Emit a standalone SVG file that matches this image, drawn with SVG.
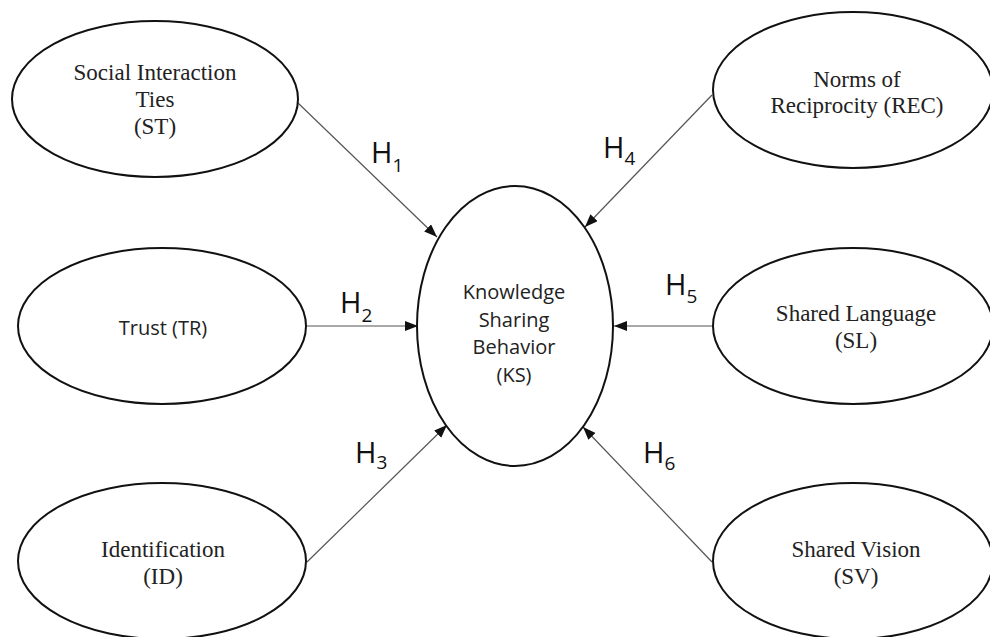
<svg xmlns="http://www.w3.org/2000/svg" width="990" height="637" viewBox="0 0 990 637">
<style>
.node ellipse{fill:#fff;stroke:#111;stroke-width:2}
.serif{font-family:"Liberation Serif","Times New Roman",serif;font-size:23px;fill:#222;text-anchor:middle}
.sans{font-family:"Open Sans","Noto Sans",sans-serif;fill:#222;text-anchor:middle}
.conn line{stroke:#555;stroke-width:1.2}
.hl{font-family:"Open Sans","Noto Sans",sans-serif;font-size:29px;fill:#111}
.hl tspan{font-size:19px}
</style>
<defs>
<marker id="ah" markerUnits="userSpaceOnUse" markerWidth="14" markerHeight="12" refX="13" refY="5" orient="auto">
<path d="M0,0 L13,5 L0,10 Z" fill="#111"/>
</marker>
</defs>
<rect width="990" height="637" fill="#fff"/>
<g class="conn">
<line x1="298" y1="103" x2="437" y2="237" marker-end="url(#ah)"/>
<line x1="307" y1="326" x2="418" y2="326" marker-end="url(#ah)"/>
<line x1="307" y1="562" x2="447" y2="425" marker-end="url(#ah)"/>
<line x1="712" y1="95" x2="585" y2="227" marker-end="url(#ah)"/>
<line x1="713" y1="326" x2="614" y2="326" marker-end="url(#ah)"/>
<line x1="712" y1="562" x2="583" y2="427" marker-end="url(#ah)"/>
</g>
<g id="labels">
<text class="hl" x="371" y="163">H<tspan dy="9">1</tspan></text>
<text class="hl" x="340" y="313">H<tspan dy="9">2</tspan></text>
<text class="hl" x="355" y="463">H<tspan dy="6">3</tspan></text>
<text class="hl" x="603" y="158">H<tspan dy="7">4</tspan></text>
<text class="hl" x="665" y="295">H<tspan dy="8">5</tspan></text>
<text class="hl" x="643" y="463">H<tspan dy="7">6</tspan></text>
</g>
<g id="ST" class="node">
<ellipse cx="155" cy="99" rx="143" ry="78"/>
<text class="serif" x="155" y="80">Social Interaction</text>
<text class="serif" x="155" y="107">Ties</text>
<text class="serif" x="155" y="134">(ST)</text>
</g>
<g id="TR" class="node">
<ellipse cx="162" cy="326" rx="144" ry="78"/>
<text class="sans" x="163" y="335" font-size="20">Trust (TR)</text>
</g>
<g id="ID" class="node">
<ellipse cx="162" cy="561" rx="144" ry="78"/>
<text class="serif" x="163" y="557">Identification</text>
<text class="serif" x="163" y="584">(ID)</text>
</g>
<g id="REC" class="node">
<ellipse cx="853" cy="90" rx="140" ry="78"/>
<text class="serif" x="857" y="87">Norms of</text>
<text class="serif" x="857" y="113">Reciprocity (REC)</text>
</g>
<g id="SL" class="node">
<ellipse cx="853" cy="326" rx="140" ry="78"/>
<text class="serif" x="856" y="321">Shared Language</text>
<text class="serif" x="856" y="348">(SL)</text>
</g>
<g id="SV" class="node">
<ellipse cx="853" cy="561" rx="140" ry="78"/>
<text class="serif" x="856" y="557">Shared Vision</text>
<text class="serif" x="856" y="584">(SV)</text>
</g>
<g id="KS" class="node">
<ellipse cx="515" cy="326" rx="98" ry="140"/>
<text class="sans" font-size="20" x="514" y="299">Knowledge</text>
<text class="sans" font-size="20" x="514" y="327">Sharing</text>
<text class="sans" font-size="20" x="514" y="354">Behavior</text>
<text class="sans" font-size="20" x="514" y="382">(KS)</text>
</g>
</svg>
